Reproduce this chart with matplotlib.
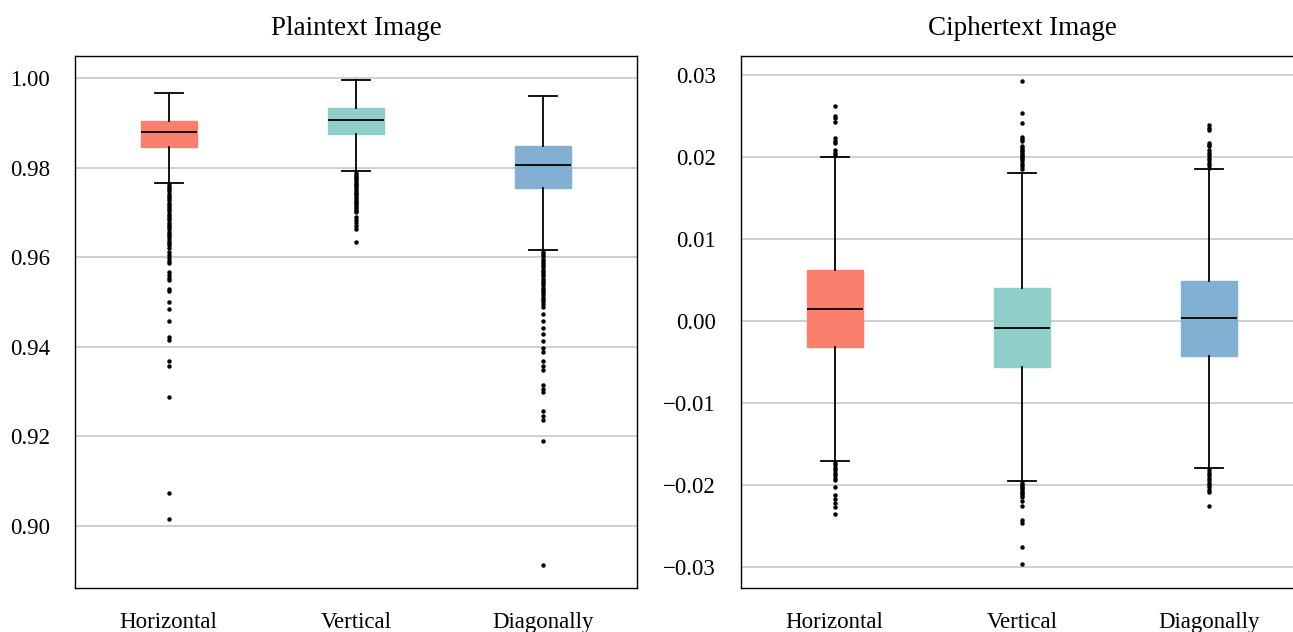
import matplotlib
matplotlib.use("Agg")
import matplotlib.pyplot as plt
from matplotlib.ticker import FuncFormatter, MultipleLocator

plt.rcParams['font.family'] = ['Liberation Serif', 'DejaVu Serif']

categories = ["Horizontal", "Vertical", "Diagonally"]
colors = ['#FA7F6F', '#8ECFC9', '#82B0D2']

# ---- Plaintext image correlation stats ----
plain_whishi = [0.99665, 0.99955, 0.9960]
plain_q3 = [0.9904, 0.9933, 0.9848]
plain_med = [0.98795, 0.99063, 0.98058]
plain_q1 = [0.9846, 0.9875, 0.9754]
plain_whislo = [0.97656, 0.97924, 0.9616]

plain_fliers_h = [0.9762, 0.9757, 0.9752, 0.9747, 0.9742, 0.9737, 0.9732, 0.9727,
                  0.9722, 0.9717, 0.9712, 0.9707, 0.9702, 0.9697, 0.9692, 0.9687,
                  0.9682, 0.9677, 0.9672, 0.9667, 0.9662, 0.9657, 0.9652, 0.9647,
                  0.9642, 0.9637, 0.9632, 0.9627, 0.9620, 0.9612, 0.9605, 0.9598,
                  0.9592, 0.9587, 0.9567, 0.9560, 0.9553, 0.9549, 0.9529, 0.9525,
                  0.9500, 0.9484, 0.9458, 0.9422, 0.9415, 0.9368, 0.9357, 0.9289,
                  0.9074, 0.9016]
plain_fliers_v = [0.9788, 0.9784, 0.9780, 0.9776, 0.9772, 0.9768, 0.9764, 0.9760,
                  0.9756, 0.9752, 0.9748, 0.9744, 0.9740, 0.9736, 0.9732, 0.9728,
                  0.9724, 0.9720, 0.9716, 0.9712, 0.9708, 0.9704, 0.9700, 0.9690,
                  0.9683, 0.9676, 0.9670, 0.9663, 0.9634]
plain_fliers_d = [0.9612, 0.9607, 0.9602, 0.9597, 0.9592, 0.9587, 0.9582, 0.9577,
                  0.9572, 0.9567, 0.9562, 0.9557, 0.9552, 0.9547, 0.9542, 0.9537,
                  0.9532, 0.9527, 0.9522, 0.9517, 0.9512, 0.9507, 0.9502, 0.9495,
                  0.9488, 0.9473, 0.9458, 0.9443, 0.9428, 0.9413, 0.9398, 0.9388,
                  0.9369, 0.9358, 0.9348, 0.9315, 0.9306, 0.9298, 0.9257, 0.9246,
                  0.9236, 0.9190, 0.8913]

# ---- Ciphertext image correlation stats ----
cipher_whishi = [0.02004, 0.01809, 0.0185]
cipher_q3 = [0.00622, 0.00398, 0.00492]
cipher_med = [0.00146, -0.00081, 0.00033]
cipher_q1 = [-0.0032, -0.00557, -0.00427]
cipher_whislo = [-0.01704, -0.01947, -0.01789]

cipher_fliers_h = [0.0262, 0.0250, 0.0247, 0.0243, 0.0223, 0.0220, 0.0217, 0.0208,
                   0.0205, 0.0202, -0.0173, -0.0176, -0.0179, -0.0182, -0.0185,
                   -0.0188, -0.0191, -0.0194, -0.0202, -0.0212, -0.0217, -0.0222,
                   -0.0227, -0.0235]
cipher_fliers_v = [0.0293, 0.0254, 0.0241, 0.0225, 0.0222, 0.0219, 0.0213, 0.0211,
                   0.0209, 0.0207, 0.0205, 0.0203, 0.0201, 0.0199, 0.0197, 0.0195,
                   0.0192, 0.0189, 0.0186, -0.0198, -0.0200, -0.0202, -0.0204,
                   -0.0206, -0.0208, -0.0210, -0.0212, -0.0215, -0.0220, -0.0226,
                   -0.0243, -0.0246, -0.0275, -0.0296]
cipher_fliers_d = [0.0239, 0.0236, 0.0233, 0.0217, 0.0215, 0.0213, 0.0208, 0.0205,
                   0.0202, 0.0199, 0.0196, 0.0193, 0.0190, 0.0187, -0.0182, -0.0185,
                   -0.0188, -0.0191, -0.0194, -0.0197, -0.0200, -0.0203, -0.0206,
                   -0.0208, -0.0226]


def make_stats(lo, q1, med, q3, hi, fliers):
    return [dict(whislo=lo[i], q1=q1[i], med=med[i], q3=q3[i], whishi=hi[i],
                 fliers=fliers[i], label=categories[i]) for i in range(len(lo))]


plain_stats = make_stats(plain_whislo, plain_q1, plain_med, plain_q3, plain_whishi,
                         [plain_fliers_h, plain_fliers_v, plain_fliers_d])
cipher_stats = make_stats(cipher_whislo, cipher_q1, cipher_med, cipher_q3, cipher_whishi,
                          [cipher_fliers_h, cipher_fliers_v, cipher_fliers_d])

fig = plt.figure(figsize=(12.93, 6.32), dpi=100)
W, H = 1293, 632
ax1 = fig.add_axes([75 / W, (H - 588) / H, 562 / W, 532 / H])
ax2 = fig.add_axes([741 / W, (H - 588) / H, 562 / W, 532 / H])


def fmt(v, pos):
    s = '%.2f' % v
    if s.startswith('-'):
        s = '\u2212' + s[1:]
    if s == '\u22120.00':
        s = '0.00'
    return s


def draw(ax, stats, title, ylim, step):
    bp = ax.bxp(stats, positions=[1, 2, 3], widths=0.3, patch_artist=True,
                showfliers=True,
                boxprops=dict(linewidth=1.0),
                medianprops=dict(color='black', linewidth=1.3),
                whiskerprops=dict(color='black', linewidth=1.3),
                capprops=dict(color='black', linewidth=1.3),
                flierprops=dict(marker='o', markersize=2.2, markerfacecolor='black',
                                markeredgecolor='black', linestyle='none'),
                zorder=3)
    for patch, c in zip(bp['boxes'], colors):
        patch.set_facecolor(c)
        patch.set_edgecolor(c)
    ax.set_xlim(0.5, 3.5)
    ax.set_ylim(*ylim)
    ax.yaxis.set_major_locator(MultipleLocator(step))
    ax.yaxis.set_major_formatter(FuncFormatter(fmt))
    ax.grid(axis='y', color='#cccccc', linewidth=1.3, zorder=0)
    ax.set_axisbelow(True)
    ax.tick_params(axis='both', length=0, labelsize=16.5)
    ax.tick_params(axis='y', pad=18)
    ax.tick_params(axis='x', pad=17)
    for s in ax.spines.values():
        s.set_color('black')
        s.set_linewidth(1.0)
    ax.set_title(title, fontsize=19.5, pad=15)


draw(ax1, plain_stats, "Plaintext Image", (0.88616, 1.0049), 0.02)
draw(ax2, cipher_stats, "Ciphertext Image", (-0.03256, 0.03232), 0.01)

fig.savefig("out.png", dpi=100)
